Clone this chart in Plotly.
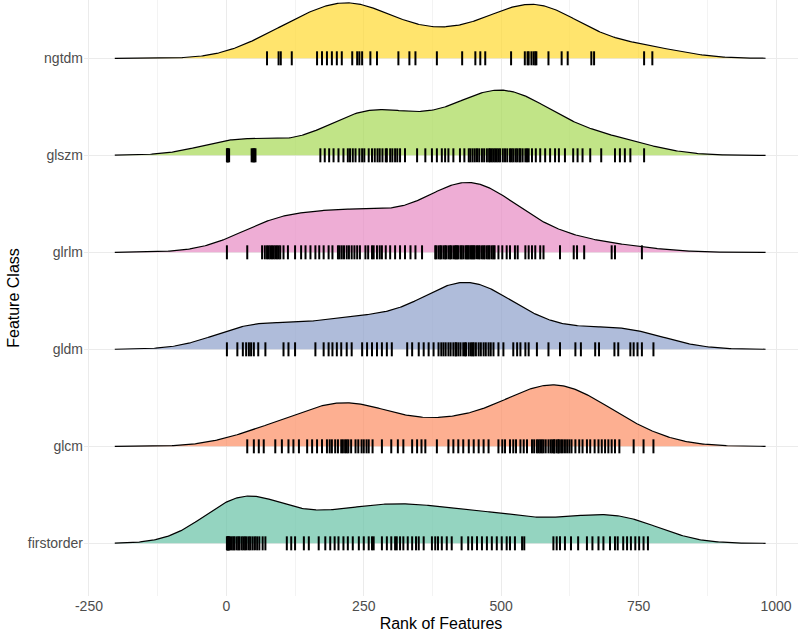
import numpy as np
import plotly.graph_objects as go

classes = ["firstorder", "glcm", "gldm", "glrlm", "glszm", "ngtdm"]

firstorder = [1, 2, 3, 4, 5, 7, 10, 13, 15, 19, 22, 24, 28, 31, 34, 37, 41, 44, 48, 52, 56, 60,
              66, 71, 110, 118, 125, 141, 150, 168, 180, 189, 197, 204, 213, 221, 230, 241, 250,
              259, 265, 268, 283, 292, 300, 307, 310, 316, 322, 330, 338, 345, 350, 359, 374, 380, 385,
              392, 401, 410, 428, 440, 447, 456, 465, 474, 483, 492, 501, 510, 516, 525, 538, 542, 595,
              601, 607, 616, 627, 640, 656, 666, 677, 686, 698, 707, 712, 722, 729, 736, 744, 751, 759,
              767]
glcm = [38, 50, 59, 68, 89, 101, 113, 122, 132, 147, 156, 165, 174, 183, 188, 192, 198, 203, 209, 212,
        216, 219, 222, 227, 235, 240, 246, 250, 255, 259, 266, 283, 300, 312, 322, 338, 347, 355, 362,
        383, 404, 413, 422, 431, 441, 450, 459, 468, 477, 495, 502, 507, 516, 522, 527, 535, 541, 547,
        556, 560, 565, 568, 571, 574, 577, 581, 586, 590, 593, 596, 597, 601, 604, 605, 609, 612, 616,
        620, 624, 628, 635, 642, 648, 656, 662, 670, 677, 683, 689, 695, 701, 707, 715, 741, 759, 777]
gldm = [1, 20, 30, 36, 41, 45, 50, 58, 71, 104, 113, 125, 162, 177, 186, 193, 201, 209, 219, 228, 247,
        256, 265, 274, 283, 292, 301, 329, 338, 350, 359, 368, 377, 386, 391, 395, 399, 404, 408, 413,
        417, 418, 422, 426, 431, 434, 436, 441, 445, 448, 450, 454, 459, 463, 468, 472, 477, 481, 486,
        495, 504, 522, 529, 535, 544, 550, 565, 586, 607, 635, 645, 671, 678, 706, 713, 735, 741, 748,
        756, 777]
glrlm = [1, 38, 65, 70, 74, 77, 80, 83, 86, 89, 92, 95, 98, 104, 112, 125, 136, 144, 153, 162, 169,
         177, 186, 193, 203, 206, 210, 214, 219, 223, 228, 233, 238, 243, 253, 258, 265, 268, 274, 279,
         283, 290, 298, 307, 316, 325, 335, 344, 356, 380, 382, 386, 389, 391, 395, 398, 400, 404, 407,
         409, 413, 416, 418, 420, 422, 426, 428, 431, 435, 437, 439, 441, 444, 446, 448, 450, 452, 456,
         459, 461, 465, 468, 470, 474, 477, 479, 483, 486, 488, 495, 502, 510, 516, 525, 530, 544, 550,
         556, 562, 571, 577, 607, 632, 638, 651, 701, 707, 756]
glszm = [1, 2, 3, 5, 46, 48, 50, 51, 53, 171, 179, 187, 195, 204, 213, 221, 225, 230, 235, 242, 247, 251,
         259, 265, 270, 275, 279, 284, 290, 292, 298, 302, 307, 311, 316, 325, 347, 362, 374, 383, 392,
         398, 404, 413, 425, 433, 441, 444, 448, 452, 456, 460, 465, 469, 474, 478, 480, 483, 486, 489,
         492, 495, 498, 503, 507, 511, 516, 519, 522, 526, 529, 533, 535, 539, 544, 547, 550, 556, 563,
         571, 580, 589, 598, 605, 616, 631, 639, 648, 662, 682, 707, 716, 725, 735, 760]
ngtdm = [74, 95, 99, 119, 165, 174, 183, 192, 201, 210, 229, 238, 242, 247, 262, 274, 313, 333, 344,
         383, 429, 453, 462, 471, 518, 543, 548, 550, 555, 559, 562, 564, 586, 610, 621, 664, 669,
         760, 775]

fills = ["rgba(102,194,165,0.7)", "rgba(252,141,98,0.7)", "rgba(141,160,203,0.7)",
         "rgba(231,138,195,0.7)", "rgba(166,216,84,0.7)", "rgba(255,217,47,0.7)"]

data = [firstorder, glcm, gldm, glrlm, glszm, ngtdm]
BANDWIDTH = 68
MAX_HEIGHT = 0.72

allv = np.concatenate([np.asarray(d, float) for d in data])
grid = np.linspace(allv.min() - 3 * BANDWIDTH, allv.max() + 3 * BANDWIDTH, 512)

dens = []
for d in data:
    v = np.asarray(d, float)
    k = np.exp(-0.5 * ((grid[:, None] - v[None, :]) / BANDWIDTH) ** 2).sum(axis=1)
    dens.append(k / (len(v) * BANDWIDTH * np.sqrt(2 * np.pi)))
gmax = max(d.max() for d in dens)

fig = go.Figure()
for i in reversed(range(len(classes))):
    h = dens[i] / gmax * MAX_HEIGHT
    fig.add_trace(go.Scatter(x=grid, y=np.full_like(grid, i), mode="lines",
                             line=dict(width=0, color="rgba(0,0,0,0)"), hoverinfo="skip",
                             showlegend=False))
    fig.add_trace(go.Scatter(x=grid, y=i + h, mode="lines", fill="tonexty", fillcolor=fills[i],
                             line=dict(color="black", width=1.2), hoverinfo="skip", showlegend=False))
    fig.add_trace(go.Scatter(x=data[i], y=[i] * len(data[i]), mode="markers",
                             marker=dict(symbol="line-ns-open", size=10, color="black",
                                         line=dict(color="black", width=2)),
                             showlegend=False, hoverinfo="x"))

fig.update_layout(
    width=800, height=634,
    margin=dict(l=84, r=2, t=0, b=38),
    plot_bgcolor="white", paper_bgcolor="white",
    font=dict(family="Liberation Sans, Arial, sans-serif", size=14, color="#4D4D4D"),
    xaxis=dict(range=[-259, 1040], tickvals=[-250, 0, 250, 500, 750, 1000],
               ticktext=["-250", "0", "250", "500", "750", "1000"],
               showgrid=True, gridcolor="#EBEBEB", gridwidth=1, zeroline=False, showline=False,
               ticks="", ticklen=0,
               minor=dict(tickvals=[-125, 125, 375, 625, 875], showgrid=True,
                          gridcolor="#F3F3F3", gridwidth=1),
               title=dict(text="Rank of Features", font=dict(size=16, color="black"), standoff=4)),
    yaxis=dict(range=[-0.543, 5.601], tickvals=list(range(len(classes))), ticktext=classes,
               showgrid=True, gridcolor="#EBEBEB", gridwidth=1, zeroline=False, showline=False,
               ticks="", ticklen=0,
               title=dict(text="Feature Class", font=dict(size=16, color="black"), standoff=4)),
)

fig.write_html("out.html")
